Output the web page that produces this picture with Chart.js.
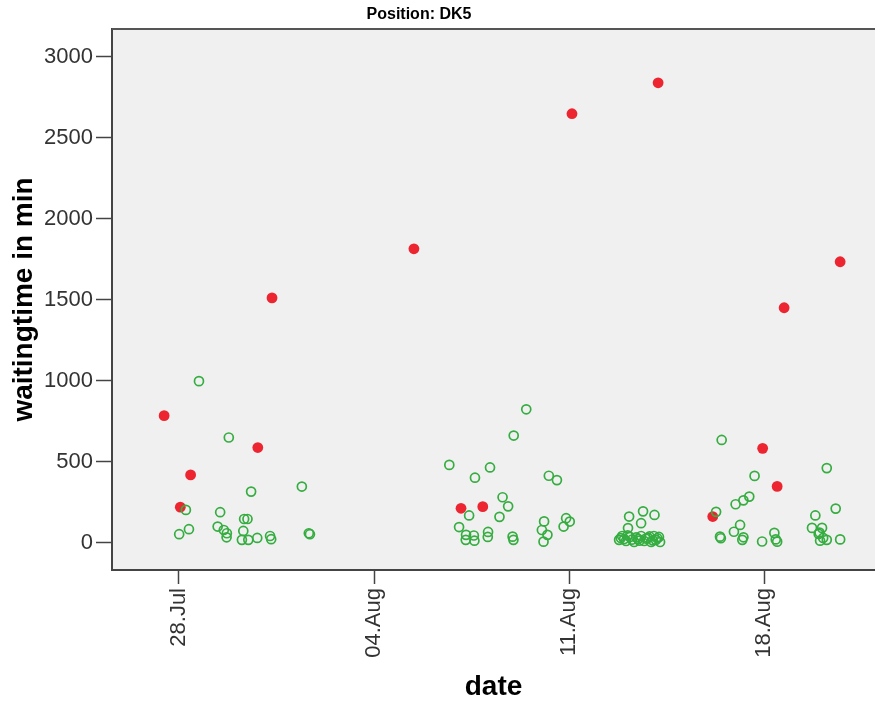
<!DOCTYPE html>
<html>
<head>
<meta charset="utf-8">
<script src="https://cdn.jsdelivr.net/npm/chart.js@4/dist/chart.umd.min.js"></script>
<style>
  html, body { margin: 0; padding: 0; background: #fff; }
  #wrap { width: 875px; height: 701px; }
</style>
</head>
<body>
<div id="wrap"><canvas id="chart" width="875" height="701"></canvas></div>
<script>
// day numbers: 28 = 28.Jul, 32 = 01.Aug, 35 = 04.Aug ...
const tickDays = [28, 35, 42, 49];
const tickLabels = ['28.Jul', '04.Aug', '11.Aug', '18.Aug'];
const waitTicks = [0, 500, 1000, 1500, 2000, 2500, 3000];

// green open circles
const greenDays = [
    28.72, 29.79, 30.59, 32.41, 28.25, 29.48, 28.36, 28.01, 29.39, 29.61, 29.72, 29.71,
    30.34, 30.46, 30.31, 30.26, 30.49, 30.81, 31.27, 31.31, 32.66, 32.70,
    37.70, 38.62, 39.16, 40.46, 40.01, 39.61, 39.81, 39.50, 38.41, 38.05, 38.30, 38.29,
    38.58, 38.60, 39.09, 39.08, 39.97, 40.00, 41.10, 41.02, 41.22, 41.08, 41.27, 41.56,
    41.89, 42.02, 41.80,
    44.15, 44.65, 45.06, 44.58, 44.11, 43.79, 43.90, 44.04, 44.18, 44.33, 44.47, 44.58,
    44.69, 44.83, 44.94, 45.04, 45.11, 45.22, 45.26,
    43.85, 43.97, 44.10, 44.25, 44.40, 44.52, 44.75, 44.88, 45.00, 45.16,
    47.47, 48.65, 48.46, 48.25, 47.97, 47.27, 48.13, 47.91, 47.41, 47.44, 48.25, 48.21,
    48.92, 49.36, 49.41, 49.46,
    51.24, 51.56, 50.83, 50.71, 51.07, 50.95, 51.11, 51.24, 51.00, 51.72, 50.98
];
const greenWait = [
    997, 649, 315, 346, 202, 188, 83, 52, 99, 78, 58, 33,
    146, 146, 72, 17, 17, 29, 41, 21, 58, 52,
    480, 401, 464, 823, 661, 280, 224, 159, 168, 96, 48, 17,
    44, 12, 66, 35, 37, 17, 131, 78, 48, 6, 413, 386,
    151, 130, 99,
    161, 193, 171, 120, 90, 17, 41, 10, 35, 4, 23, 41,
    10, 29, 4, 41, 17, 35, 4,
    28, 22, 45, 18, 33, 12, 25, 38, 14, 27,
    634, 412, 284, 261, 237, 190, 109, 67, 37, 27, 33, 17,
    7, 60, 20, 6,
    460, 210, 168, 91, 91, 54, 29, 17, 12, 20, 62
];

// red filled dots
const redDays = [27.47, 28.05, 28.42, 30.83, 31.34, 36.43, 38.12, 38.90, 42.10, 45.19, 47.15, 48.94, 49.46, 49.71, 51.72];
const redWait = [784, 219, 418, 587, 1511, 1814, 212, 222, 2648, 2839, 161, 582, 347, 1450, 1734];

function toPoints(xs, ys) {
    return xs.map((x, i) => ({ x: x, y: ys[i] }));
}

// plot background, top frame line and title
const framePlugin = {
    id: 'frame',
    beforeDraw(chart) {
        const { ctx, chartArea: a } = chart;
        ctx.save();
        ctx.fillStyle = '#f0f0f0';
        ctx.fillRect(a.left, a.top, a.right - a.left, a.bottom - a.top);
        ctx.restore();
    },
    afterDraw(chart) {
        const { ctx, chartArea: a } = chart;
        ctx.save();
        ctx.strokeStyle = '#555';
        ctx.lineWidth = 2;
        ctx.beginPath();
        ctx.moveTo(a.left, a.top);
        ctx.lineTo(a.right, a.top);
        ctx.stroke();
        ctx.fillStyle = '#000';
        ctx.font = 'bold 16px "Liberation Sans", Arial, sans-serif';
        ctx.textAlign = 'center';
        ctx.textBaseline = 'middle';
        ctx.fillText('Position: DK5', 419, 15);
        ctx.restore();
    }
};

const tickFont = { family: '"Liberation Sans", Arial, sans-serif', size: 22 };
const titleFont = { family: '"Liberation Sans", Arial, sans-serif', size: 28, weight: 'bold', lineHeight: 1 };

new Chart(document.getElementById('chart'), {
    type: 'scatter',
    data: {
        datasets: [
            {
                data: toPoints(greenDays, greenWait),
                pointRadius: 4.5,
                pointBorderWidth: 1.7,
                pointBorderColor: '#35ad40',
                pointBackgroundColor: 'rgba(0,0,0,0)'
            },
            {
                data: toPoints(redDays, redWait),
                pointRadius: 5.4,
                pointBorderWidth: 0,
                pointBackgroundColor: '#ec2530',
                pointBorderColor: '#ec2530'
            }
        ]
    },
    options: {
        responsive: false,
        animation: false,
        layout: { autoPadding: false, padding: { top: 29, left: 0, right: 0, bottom: 0 } },
        plugins: {
            legend: { display: false },
            tooltip: { enabled: false },
            title: { display: false }
        },
        scales: {
            x: {
                type: 'linear',
                min: 25.6,
                max: 52.97,
                afterBuildTicks: axis => {
                    axis.ticks = tickDays.map(v => ({ value: v }));
                },
                afterFit: axis => {
                    axis.height = 131;
                    axis.paddingLeft = 0;
                    axis.paddingRight = 0;
                },
                grid: { drawOnChartArea: false, tickLength: 14, tickColor: '#444', tickWidth: 1.5 },
                border: { color: '#444', width: 2 },
                ticks: {
                    font: tickFont,
                    color: '#333',
                    padding: 4,
                    minRotation: 90,
                    maxRotation: 90,
                    autoSkip: false,
                    callback: v => tickLabels[tickDays.indexOf(v)]
                },
                title: { display: true, text: 'date', font: titleFont, color: '#000', padding: { top: 0, bottom: 0 } }
            },
            y: {
                min: -169,
                max: 3171,
                afterBuildTicks: axis => {
                    axis.ticks = waitTicks.map(v => ({ value: v }));
                },
                afterFit: axis => {
                    axis.width = 112;
                    axis.paddingTop = 0;
                    axis.paddingBottom = 0;
                },
                grid: { drawOnChartArea: false, tickLength: 16, tickColor: '#444', tickWidth: 1.5 },
                border: { color: '#444', width: 2 },
                ticks: { font: tickFont, color: '#333', padding: 3, callback: v => String(v) },
                title: { display: true, text: 'waitingtime in min', font: titleFont, color: '#000', padding: { top: 10, bottom: 0 } }
            }
        }
    },
    plugins: [framePlugin]
});
</script>
</body>
</html>
